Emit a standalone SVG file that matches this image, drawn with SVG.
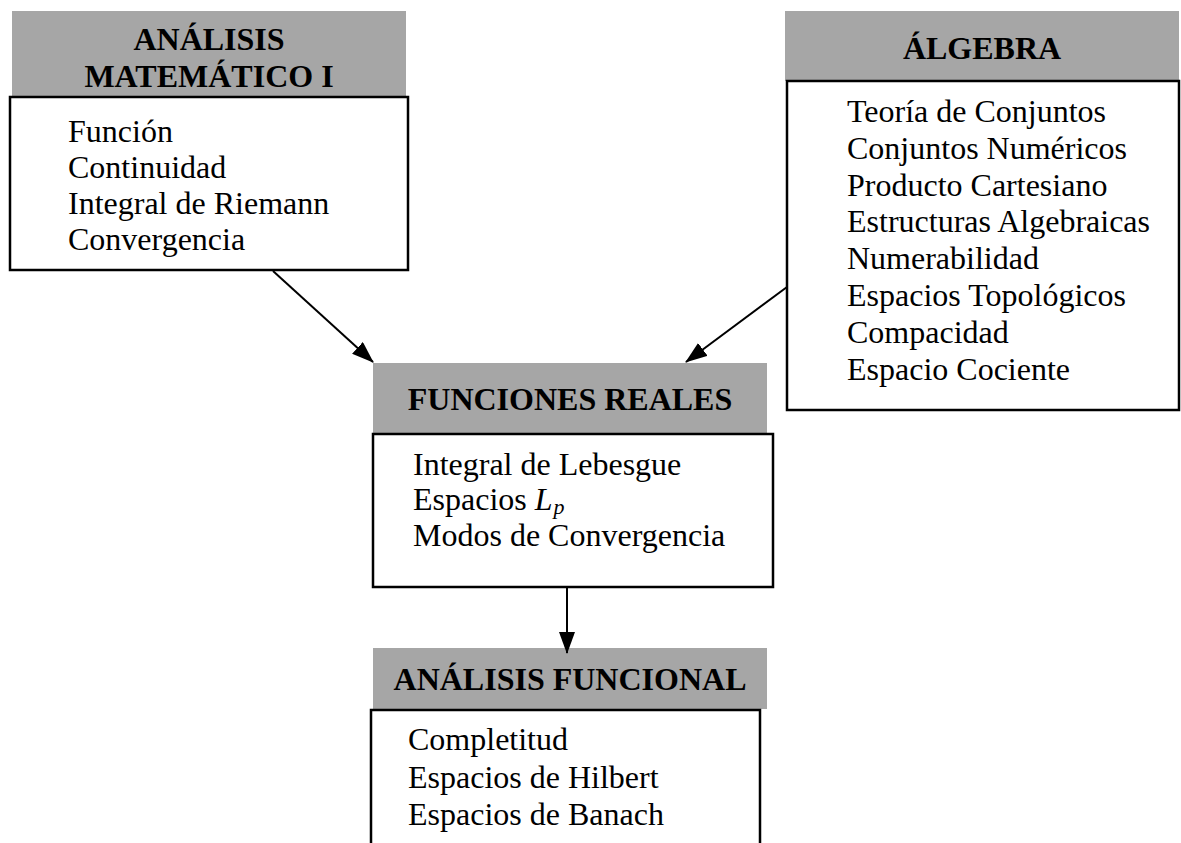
<svg xmlns="http://www.w3.org/2000/svg" width="1181" height="843" viewBox="0 0 1181 843">
<style>
.hdr{fill:#a6a6a6;stroke:none}
.box{fill:#ffffff;stroke:#000;stroke-width:2.5}
.ttl{font-family:"Liberation Serif","Times New Roman",serif;font-weight:bold;font-size:32px;fill:#000;text-anchor:middle}
.txt{font-family:"Liberation Serif","Times New Roman",serif;font-size:32px;fill:#000}
.con{stroke:#000;stroke-width:2;fill:none;marker-end:url(#arr)}
</style>
<defs>
<marker id="arr" viewBox="0 0 22 16" refX="21" refY="8" markerWidth="22" markerHeight="16" markerUnits="userSpaceOnUse" orient="auto">
<path d="M0,0 L22,8 L0,16 z" fill="#000"/>
</marker>
</defs>
<rect width="1181" height="843" fill="#fff"/>
<g id="analisis-matematico">
<rect class="hdr" x="12" y="11" width="394" height="86"/>
<rect class="box" x="10" y="97" width="398" height="173"/>
<text class="ttl" x="209" y="50">ANÁLISIS</text>
<text class="ttl" x="209" y="87">MATEMÁTICO I</text>
<text class="txt" x="68" y="142">Función</text>
<text class="txt" x="68" y="178">Continuidad</text>
<text class="txt" x="68" y="214">Integral de Riemann</text>
<text class="txt" x="68" y="250">Convergencia</text>
</g>
<g id="algebra">
<rect class="hdr" x="785" y="11" width="394" height="70"/>
<rect class="box" x="787" y="81" width="392" height="329"/>
<text class="ttl" x="982" y="59">ÁLGEBRA</text>
<text class="txt" x="847" y="122">Teoría de Conjuntos</text>
<text class="txt" x="847" y="159">Conjuntos Numéricos</text>
<text class="txt" x="847" y="196">Producto Cartesiano</text>
<text class="txt" x="847" y="232">Estructuras Algebraicas</text>
<text class="txt" x="847" y="269">Numerabilidad</text>
<text class="txt" x="847" y="306">Espacios Topológicos</text>
<text class="txt" x="847" y="343">Compacidad</text>
<text class="txt" x="847" y="380">Espacio Cociente</text>
</g>
<g id="funciones-reales">
<rect class="hdr" x="373" y="363" width="394" height="70"/>
<rect class="box" x="373" y="434" width="400" height="153"/>
<text class="ttl" x="570" y="410">FUNCIONES REALES</text>
<text class="txt" x="413" y="475">Integral de Lebesgue</text>
<text class="txt" x="413" y="510">Espacios <tspan font-style="italic">L</tspan><tspan font-style="italic" font-size="22" dx="1" dy="4">p</tspan></text>
<text class="txt" x="413" y="546">Modos de Convergencia</text>
</g>
<g id="analisis-funcional">
<rect class="hdr" x="373" y="648" width="394" height="61"/>
<rect class="box" x="371" y="710" width="389" height="150"/>
<text class="ttl" x="570" y="690">ANÁLISIS FUNCIONAL</text>
<text class="txt" x="408" y="750">Completitud</text>
<text class="txt" x="408" y="788">Espacios de Hilbert</text>
<text class="txt" x="408" y="825">Espacios de Banach</text>
</g>
<g id="connectors">
<line class="con" x1="273" y1="271" x2="373" y2="362"/>
<line class="con" x1="787" y1="287" x2="686" y2="362"/>
<line class="con" x1="567" y1="588" x2="567" y2="653"/>
</g>
</svg>
